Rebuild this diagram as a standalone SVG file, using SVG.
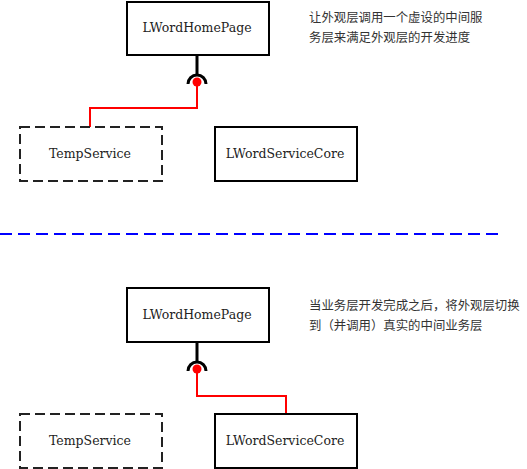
<svg xmlns="http://www.w3.org/2000/svg" width="527" height="469" viewBox="0 0 527 469">
<style>
.box{fill:#fff;stroke:#000;stroke-width:2}
.dash{fill:#fff;stroke:#222;stroke-width:2;stroke-dasharray:10 5}
.lbl{font-family:"DejaVu Serif","Liberation Serif",serif;font-size:12.5px;fill:#222;text-anchor:middle}
.note{font-family:"Noto Sans CJK SC",sans-serif;font-size:12.4px;fill:#333}
.stem{stroke:#000;stroke-width:3;fill:none}
.red{stroke:#f00;stroke-width:2;fill:none}
</style>
<rect width="527" height="469" fill="#fff"/>
<g id="connectors">
<line class="stem" x1="197" y1="55" x2="197" y2="75"/>
<path class="stem" d="M188,84 A9,9 0 0 1 206,84"/>
<polyline class="red" points="197,82 197,108 90,108 90,127"/>
<circle cx="197" cy="82" r="4.5" fill="#f00"/>
<line class="stem" x1="197" y1="342" x2="197" y2="362"/>
<path class="stem" d="M188,371 A9,9 0 0 1 206,371"/>
<polyline class="red" points="197,369 197,396 286,396 286,414"/>
<circle cx="197" cy="369" r="4.5" fill="#f00"/>
<line x1="0" y1="234" x2="500" y2="234" stroke="#00f" stroke-width="2" stroke-dasharray="12 6"/>
</g>
<g id="home1"><rect class="box" x="127" y="2" width="142" height="53"/><text class="lbl" x="197" y="32">LWordHomePage</text></g>
<g id="temp1"><rect class="dash" x="20" y="127" width="142" height="54"/><text class="lbl" x="90" y="158">TempService</text></g>
<g id="core1"><rect class="box" x="215" y="127" width="142" height="54"/><text class="lbl" x="285" y="158">LWordServiceCore</text></g>
<g id="note1"><text class="note" x="309" y="22">让外观层调用一个虚设的中间服</text><text class="note" x="309" y="42">务层来满足外观层的开发进度</text></g>
<g id="home2"><rect class="box" x="127" y="288" width="142" height="54"/><text class="lbl" x="197" y="319">LWordHomePage</text></g>
<g id="temp2"><rect class="dash" x="20" y="414" width="142" height="54"/><text class="lbl" x="90" y="445">TempService</text></g>
<g id="core2"><rect class="box" x="215" y="414" width="142" height="54"/><text class="lbl" x="285" y="445">LWordServiceCore</text></g>
<g id="note2"><text class="note" x="309" y="310">当业务层开发完成之后，将外观层切换</text><text class="note" x="309" y="330">到（并调用）真实的中间业务层</text></g>
</svg>
